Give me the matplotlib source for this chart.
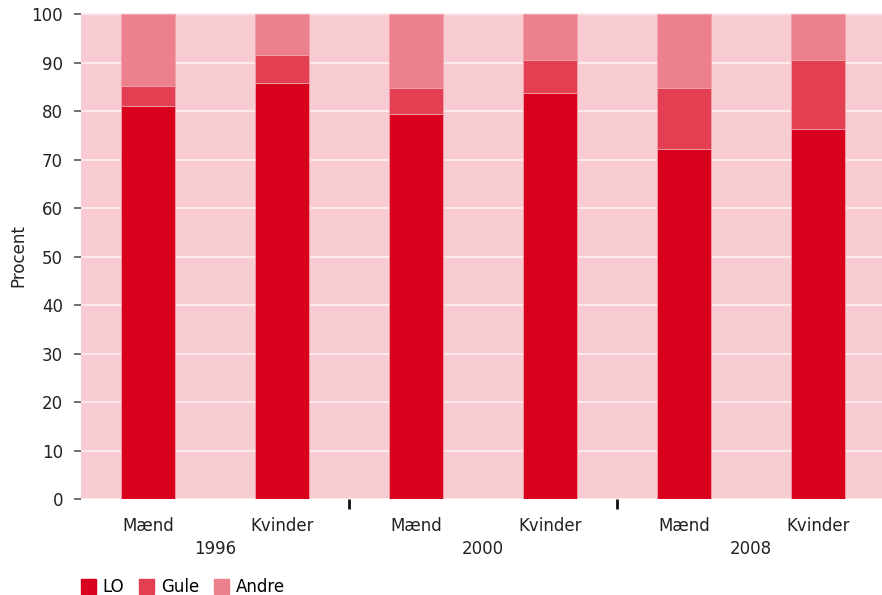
import matplotlib.pyplot as plt
from matplotlib.patches import Patch
from matplotlib.transforms import blended_transform_factory

# data
years = ['1996', '2000', '2008']
groups = ['Mænd', 'Kvinder', 'Mænd', 'Kvinder', 'Mænd', 'Kvinder']
lo = [81.1, 85.9, 79.5, 83.8, 72.3, 76.4]
gule = [4.1, 5.7, 5.3, 6.7, 12.5, 14.1]
andre = [14.8, 8.4, 15.2, 9.5, 15.2, 9.5]

c_lo = '#D9001E'
c_gule = '#E23F52'
c_andre = '#EC808C'
c_bg = '#F8CAD1'

plt.rcParams['font.family'] = ['DejaVu Sans']

fig = plt.figure(figsize=(8.82, 5.95), dpi=100)
ax = fig.add_axes([81 / 882, 96 / 595, 804 / 882, 486 / 595])
ax.set_facecolor(c_bg)

x = list(range(len(groups)))
w = 0.403
bot2 = [a + b for a, b in zip(lo, gule)]
ax.bar(x, lo, w, color=c_lo, edgecolor='#F3A0AA', linewidth=0.6, zorder=3)
ax.bar(x, gule, w, bottom=lo, color=c_gule, edgecolor='#F3A0AA', linewidth=0.6, zorder=3)
ax.bar(x, andre, w, bottom=bot2, color=c_andre, edgecolor='#F3A0AA', linewidth=0.6, zorder=3)

ax.set_xlim(-0.5, 5.5)
ax.set_ylim(0, 100.3)
ax.set_yticks(range(0, 101, 10))
ax.yaxis.grid(True, color='#FDEEF0', linewidth=1.3, zorder=1)
ax.set_axisbelow(True)
for s in ax.spines.values():
    s.set_visible(False)

ax.tick_params(axis='y', length=5, width=1.2, color='#555555', labelsize=12, pad=8, labelcolor='#222222')
ax.set_xticks(x)
ax.set_xticklabels(groups, fontsize=12, color='#222222')
ax.tick_params(axis='x', which='major', length=0, pad=13)
ax.set_xticks([1.5, 3.5], minor=True)
ax.tick_params(axis='x', which='minor', length=7, width=2, color='#111111', direction='out')

ax.set_ylabel('Procent', fontsize=12, color='#222222', labelpad=3)

tr = blended_transform_factory(ax.transData, fig.transFigure)
for i, yr in enumerate(years):
    ax.text(2 * i + 0.5, 46 / 595, yr, transform=tr, ha='center', va='center',
            fontsize=12, color='#222222')

handles = [Patch(color=c_lo, label='LO'), Patch(color=c_gule, label='Gule'),
           Patch(color=c_andre, label='Andre')]
fig.legend(handles=handles, loc='center left', bbox_to_anchor=(66 / 882, 8 / 595),
           ncol=3, frameon=False, fontsize=12, handlelength=0.9, handleheight=1.0,
           handletextpad=0.4, columnspacing=0.9)

fig.savefig('out.png', dpi=100)
